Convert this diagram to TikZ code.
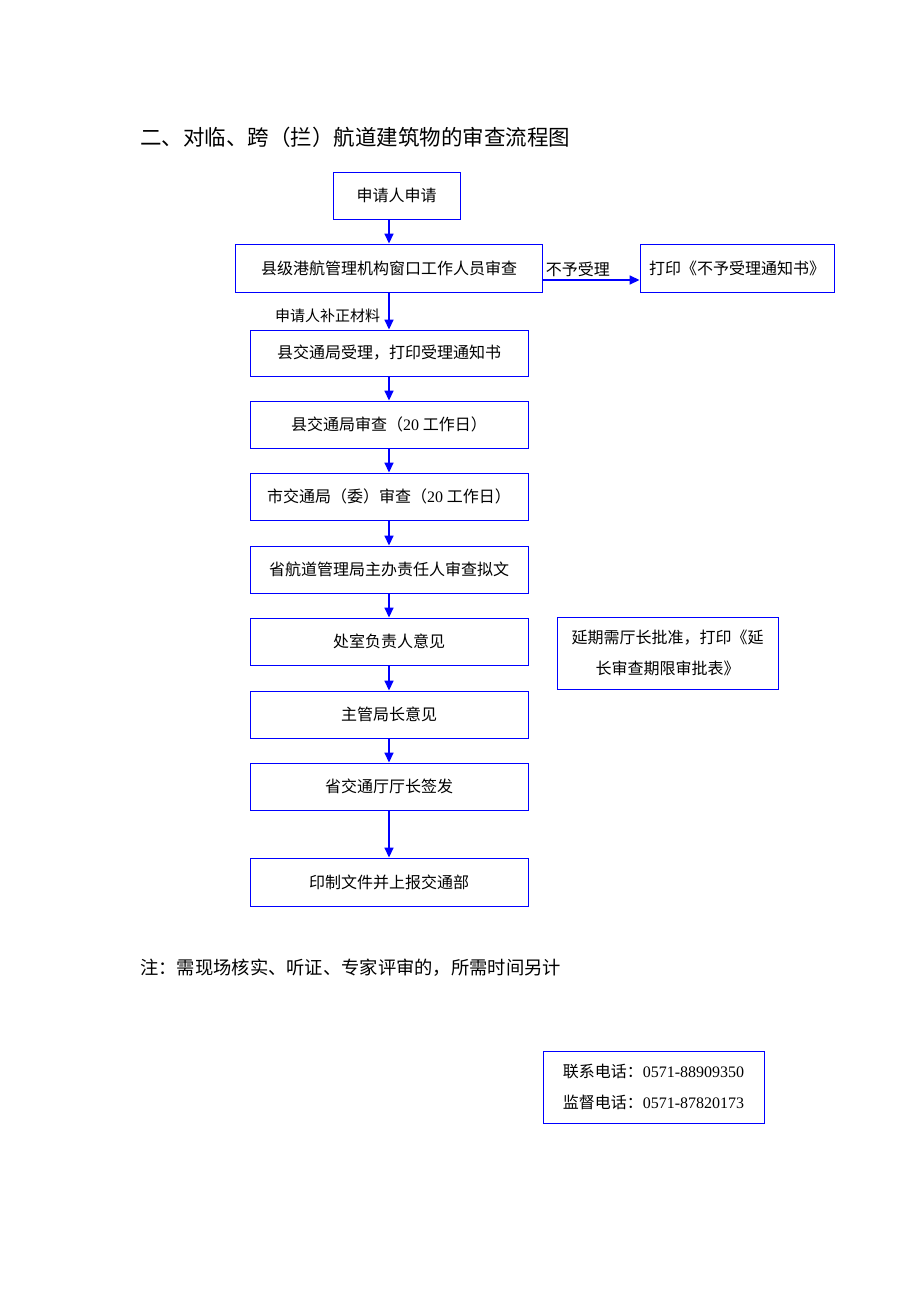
\documentclass[tikz,border=0pt]{standalone}
\usepackage{fontspec}
\setmainfont{Noto Sans CJK SC}
\newfontfamily\latin{Liberation Serif}
\usetikzlibrary{arrows.meta,positioning}

\begin{document}
\begin{tikzpicture}[
    x=1pt, y=-1pt,
    flow node/.style={rectangle,draw=blue,line width=0.9pt,inner sep=0pt,
        minimum width=278pt,minimum height=47pt,font=\fontsize{16}{20}\selectfont},
    side node/.style={rectangle,draw=blue,line width=0.9pt,inner sep=0pt,
        minimum width=221pt,minimum height=72pt,align=center,
        font=\fontsize{16}{31}\selectfont},
    plain node/.style={inner sep=0pt,anchor=west},
    flow/.style={draw=blue,line width=1.6pt,-{Triangle[length=10pt,width=9pt]}}
]
\useasboundingbox (0,0) rectangle (920,1302);

% Title
\node[plain node,font=\fontsize{21.5}{24}\selectfont] (title) at (140,137)
    {二、对临、跨（拦）航道建筑物的审查流程图};

% Main flow
\node[flow node,minimum width=127pt] (apply) at (396.5,195.5) {申请人申请};
\node[flow node,minimum width=307pt,minimum height=48pt] (window) at (389,268)
    {县级港航管理机构窗口工作人员审查};
\node[flow node,minimum width=194pt,minimum height=48pt] (reject) at (737,268)
    {打印《不予受理通知书》};
\node[flow node,minimum height=46pt] (accept) at (389,353) {县交通局受理，打印受理通知书};
\node[flow node] (county) at (389,424.5) {县交通局审查（{\latin 20} 工作日）};
\node[flow node] (city) at (389,496.5) {市交通局（委）审查（{\latin 20} 工作日）};
\node[flow node] (province) at (389,569.5) {省航道管理局主办责任人审查拟文};
\node[flow node] (office) at (389,641.5) {处室负责人意见};
\node[flow node] (director) at (389,714.5) {主管局长意见};
\node[flow node] (minister) at (389,786.5) {省交通厅厅长签发};
\node[flow node,minimum height=48pt] (print) at (389,882) {印制文件并上报交通部};

% Side box
\node[side node] (extend) at (667.5,653) {延期需厅长批准，打印《延\\长审查期限审批表》};

% Arrows
\draw[flow] (window.north |- apply.south) -- (window.north);
\draw[flow] ([yshift=-12pt]window.east) -- node[pos=0,anchor=south west,inner sep=2pt,
    font=\fontsize{16}{20}\selectfont] (nolabel) {不予受理} ([yshift=-12pt]reject.west);
\draw[flow] (window) -- node[pos=0.62,left=8pt,inner sep=0pt,
    font=\fontsize{15}{20}\selectfont] (fixlabel) {申请人补正材料} (accept);
\draw[flow] (accept) -- (county);
\draw[flow] (county) -- (city);
\draw[flow] (city) -- (province);
\draw[flow] (province) -- (office);
\draw[flow] (office) -- (director);
\draw[flow] (director) -- (minister);
\draw[flow] (minister) -- (print);

% Note
\node[plain node,font=\fontsize{18.3}{22}\selectfont] (note) at (140,968)
    {注：需现场核实、听证、专家评审的，所需时间另计};

% Contact
\node[side node] (contact) at (653.5,1087)
    {联系电话：{\latin 0571-88909350}\\监督电话：{\latin 0571-87820173}};

\end{tikzpicture}
\end{document}
